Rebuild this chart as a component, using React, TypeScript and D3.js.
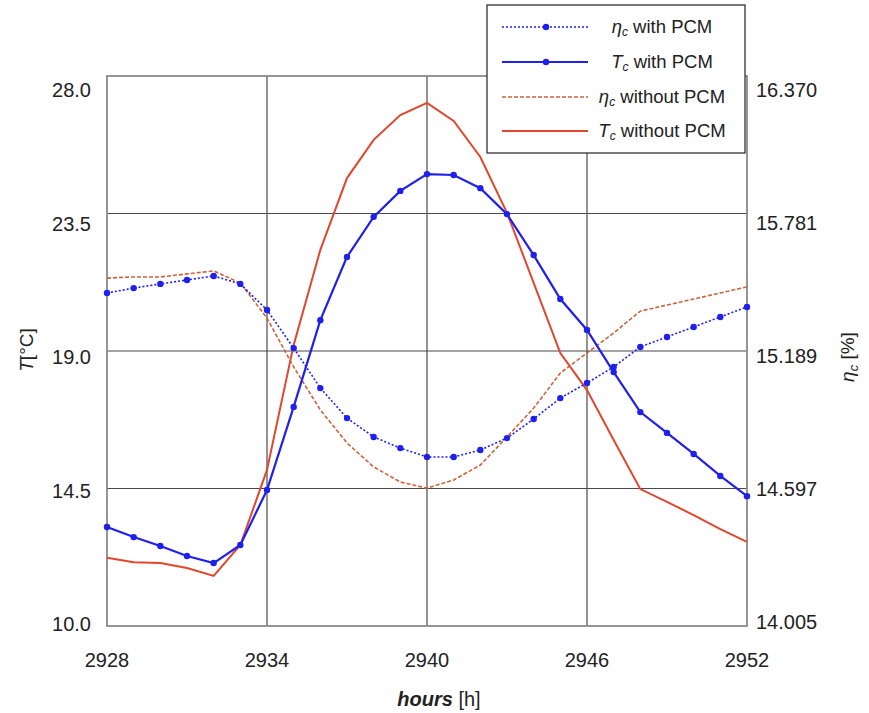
import React from "react";
import * as d3 from "d3";

// Simulation hours
const hours = [
  2928, 2929, 2930, 2931, 2932, 2933, 2934, 2935, 2936, 2937, 2938, 2939, 2940,
  2941, 2942, 2943, 2944, 2945, 2946, 2947, 2948, 2949, 2950, 2951, 2952,
];

// Cell temperature [°C]
const tcWithPcm = [
  13.24, 12.91, 12.62, 12.29, 12.06, 12.65, 14.45, 17.17, 20.01, 22.08, 23.39,
  24.24, 24.79, 24.76, 24.33, 23.48, 22.14, 20.7, 19.69, 18.31, 17.0, 16.32,
  15.63, 14.91, 14.25,
];
const tcWithoutPcm = [
  12.23, 12.09, 12.06, 11.9, 11.64, 12.65, 15.11, 19.2, 22.31, 24.66, 25.91,
  26.72, 27.12, 26.53, 25.35, 23.52, 21.23, 18.93, 17.72, 16.09, 14.48, 14.06,
  13.63, 13.17, 12.75,
];

// Cell efficiency [%]
const etaWithPcm = [
  15.437, 15.458, 15.476, 15.493, 15.51, 15.476, 15.364, 15.2, 15.028, 14.899,
  14.818, 14.77, 14.732, 14.732, 14.762, 14.813, 14.895, 14.985, 15.05, 15.119,
  15.205, 15.248, 15.291, 15.334, 15.377,
];
const etaWithoutPcm = [
  15.501, 15.506, 15.506, 15.519, 15.532, 15.48, 15.329, 15.119, 14.934,
  14.792, 14.689, 14.624, 14.598, 14.633, 14.697, 14.818, 14.942, 15.093,
  15.179, 15.265, 15.359, 15.385, 15.411, 15.437, 15.463,
];

// Axis ticks
const xTicks = [2928, 2934, 2940, 2946, 2952];
const tTicks = [10.0, 14.5, 19.0, 23.5, 28.0];
const etaTicks = [14.005, 14.597, 15.189, 15.781, 16.37];

const W = 869;
const H = 713;
const left = 107;
const right = 747;
const top = 76;
const bottom = 626;

const FONT = "'Liberation Sans', Arial, sans-serif";
const BLUE = "#1f1fee";
const RED = "#e0472c";
const RED_DASH = "#c9643d";

export default function App() {
  const x = d3.scaleLinear().domain([2928, 2952]).range([left, right]);
  const yT = d3.scaleLinear().domain([10, 28]).range([bottom, top]);
  const yEta = d3.scaleLinear().domain([14.005, 16.37]).range([bottom, top]);
  // tick labels sit slightly inside the frame
  const yLabel = d3.scaleLinear().domain([10, 28]).range([624, 90]);
  const yEtaLabel = d3.scaleLinear().domain([14.005, 16.37]).range([622, 90]);

  const lineT = d3
    .line<number>()
    .x((_, i) => x(hours[i]))
    .y((d) => yT(d));
  const lineEta = d3
    .line<number>()
    .x((_, i) => x(hours[i]))
    .y((d) => yEta(d));

  const legendRows = [
    { sym: "η", label: " with PCM", color: BLUE, dash: "2,2", w: 1.6, marker: true },
    { sym: "T", label: " with PCM", color: BLUE, dash: null, w: 2.2, marker: true },
    { sym: "η", label: " without PCM", color: RED_DASH, dash: "4,2", w: 1.6, marker: false },
    { sym: "T", label: " without PCM", color: RED, dash: null, w: 2, marker: false },
  ];
  const legendY = [27, 62, 97, 131];

  return (
    <svg
      width={W}
      height={H}
      style={{ position: "absolute", left: 0, top: 0, background: "#fff" }}
      fontFamily={FONT}
    >
      {/* grid */}
      {xTicks.slice(1, -1).map((t) => (
        <line key={"gx" + t} x1={x(t)} x2={x(t)} y1={top} y2={bottom} stroke="#4a4a4a" strokeWidth={1.2} />
      ))}
      {tTicks.slice(1, -1).map((t) => (
        <line key={"gy" + t} x1={left} x2={right} y1={yT(t)} y2={yT(t)} stroke="#4a4a4a" strokeWidth={1.2} />
      ))}
      {/* frame */}
      <rect x={left} y={top} width={right - left} height={bottom - top} fill="none" stroke="#8a8a8a" strokeWidth={1.8} />

      {/* series */}
      <path d={lineT(tcWithoutPcm) || ""} fill="none" stroke={RED} strokeWidth={2} />
      <path d={lineEta(etaWithoutPcm) || ""} fill="none" stroke={RED_DASH} strokeWidth={1.6} strokeDasharray="4,2" />
      <path d={lineEta(etaWithPcm) || ""} fill="none" stroke={BLUE} strokeWidth={1.6} strokeDasharray="2,2" />
      {etaWithPcm.map((d, i) => (
        <circle key={"me" + i} cx={x(hours[i])} cy={yEta(d)} r={3.2} fill={BLUE} />
      ))}
      <path d={lineT(tcWithPcm) || ""} fill="none" stroke={BLUE} strokeWidth={2.2} />
      {tcWithPcm.map((d, i) => (
        <circle key={"mt" + i} cx={x(hours[i])} cy={yT(d)} r={3.2} fill={BLUE} />
      ))}

      {/* left tick labels */}
      {tTicks.map((t) => (
        <text key={"lt" + t} x={91} y={yLabel(t)} dy="0.36em" textAnchor="end" fontSize={20} fill="#222">
          {t.toFixed(1)}
        </text>
      ))}
      {/* right tick labels */}
      {etaTicks.map((t) => (
        <text key={"rt" + t} x={756} y={yEtaLabel(t)} dy="0.36em" textAnchor="start" fontSize={20} fill="#222">
          {t.toFixed(3)}
        </text>
      ))}
      {/* x tick labels */}
      {xTicks.map((t) => (
        <text key={"xt" + t} x={x(t)} y={667} textAnchor="middle" fontSize={20} fill="#222">
          {t}
        </text>
      ))}

      {/* axis titles */}
      <text x={439} y={706} textAnchor="middle" fontSize={20} fill="#222">
        <tspan fontStyle="italic" fontWeight="bold">hours</tspan>
        <tspan> [h]</tspan>
      </text>
      <text transform="translate(33,350) rotate(-90)" textAnchor="middle" fontSize={19} fill="#222">
        <tspan fontStyle="italic">T</tspan>
        <tspan>[°C]</tspan>
      </text>
      <text transform="translate(854,357) rotate(-90)" textAnchor="middle" fontSize={19} fill="#222">
        <tspan fontStyle="italic">η</tspan>
        <tspan fontStyle="italic" fontSize={13} dy={4}>c</tspan>
        <tspan dy={-4}> [%]</tspan>
      </text>

      {/* legend */}
      <rect x={487} y={5} width={258} height={148} fill="#fff" stroke="#222" strokeWidth={1.2} />
      {legendRows.map((r, i) => (
        <g key={"lg" + i}>
          <line
            x1={502}
            x2={588}
            y1={legendY[i]}
            y2={legendY[i]}
            stroke={r.color}
            strokeWidth={r.w}
            strokeDasharray={r.dash || undefined}
          />
          {r.marker && <circle cx={546} cy={legendY[i]} r={3.2} fill={BLUE} />}
          <text x={662} y={legendY[i] + 6} textAnchor="middle" fontSize={18.5} fill="#222">
            <tspan fontStyle="italic">{r.sym}</tspan>
            <tspan fontStyle="italic" fontSize={12} dy={3}>c</tspan>
            <tspan dy={-3}>{r.label}</tspan>
          </text>
        </g>
      ))}
    </svg>
  );
}
